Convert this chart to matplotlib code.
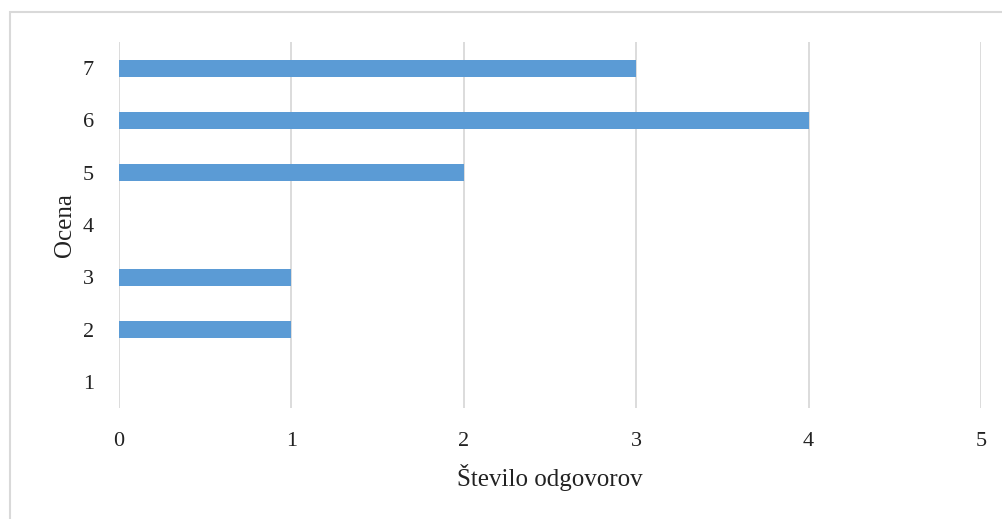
import matplotlib.pyplot as plt
from matplotlib.patches import Rectangle

# Data
categories = ['1', '2', '3', '4', '5', '6', '7']
counts = [0, 1, 1, 0, 2, 4, 3]
x_ticks = [0, 1, 2, 3, 4, 5]

plt.rcParams['font.family'] = ['Liberation Serif', 'DejaVu Serif']

fig = plt.figure(figsize=(10.03, 5.19), dpi=100)
ax = fig.add_axes([0.1186, 0.2139, 0.8594, 0.7052])

positions = list(range(len(categories)))
ax.barh(positions, counts, height=0.33, color='#5b9bd5', zorder=3)

ax.set_xlim(0, 5)
ax.set_ylim(-0.5, len(categories) - 0.5)
ax.set_xticks(x_ticks)
ax.set_yticks(positions)
ax.set_yticklabels(categories)
ax.tick_params(axis='both', length=0, labelsize=16, colors='#222222')
ax.tick_params(axis='x', pad=17)
ax.tick_params(axis='y', pad=18)

ax.grid(axis='x', color='#d9d9d9', linewidth=1.3, zorder=0)
for side in ['top', 'right', 'bottom', 'left']:
    ax.spines[side].set_visible(False)

ax.set_xlabel('Število odgovorov', fontsize=18, labelpad=10, color='#222222')
ax.set_ylabel('Ocena', fontsize=18, labelpad=5, color='#222222')

# outer chart frame (only left and top edges visible in the image)
fig.patches.append(Rectangle((10 / 1003, -0.1), 1.2, 0.1 + (519 - 12) / 519,
                             transform=fig.transFigure, fill=False,
                             edgecolor='#d9d9d9', linewidth=1.5))

fig.savefig('out.png', dpi=100)
